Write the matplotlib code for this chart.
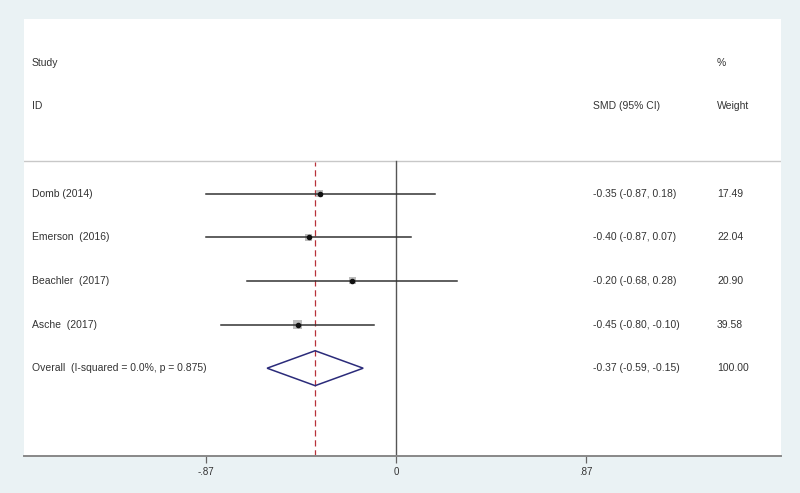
import matplotlib.pyplot as plt
from matplotlib.patches import Polygon, Rectangle

plt.rcParams['font.family'] = ['Liberation Sans', 'DejaVu Sans']

# study data
studies = ['Domb (2014)', 'Emerson  (2016)', 'Beachler  (2017)', 'Asche  (2017)']
smd = [-0.35, -0.40, -0.20, -0.45]
lo = [-0.87, -0.87, -0.68, -0.80]
hi = [0.18, 0.07, 0.28, -0.10]
weight = [17.49, 22.04, 20.90, 39.58]
ci_text = ['-0.35 (-0.87, 0.18)', '-0.40 (-0.87, 0.07)',
           '-0.20 (-0.68, 0.28)', '-0.45 (-0.80, -0.10)']
weight_text = ['17.49', '22.04', '20.90', '39.58']

overall_label = 'Overall  (I-squared = 0.0%, p = 0.875)'
overall = -0.37
overall_lo = -0.59
overall_hi = -0.15
overall_text = '-0.37 (-0.59, -0.15)'
overall_weight = '100.00'

xticks = [-0.87, 0, 0.87]
xticklabels = ['-.87', '0', '.87']

bg = '#eaf2f4'
txt = '#333333'

fig = plt.figure(figsize=(8, 4.93), dpi=100)
fig.patch.set_facecolor(bg)
ax = fig.add_axes([24 / 800, 1 - 455.5 / 493, (781 - 24) / 800, (455.5 - 19) / 493])
ax.set_facecolor('white')
ax.set_xlim(-1.703, 1.763)
ax.set_ylim(0, 10)

rows = [6, 5, 4, 3]
orow = 2

# header
ax.text(-1.667, 9, 'Study', fontsize=7.5, color=txt, va='center')
ax.text(-1.667, 8, 'ID', fontsize=7.5, color=txt, va='center')
ax.text(0.902, 8, 'SMD (95% CI)', fontsize=7.5, color=txt, va='center')
ax.text(1.47, 9, '%', fontsize=7.5, color=txt, va='center')
ax.text(1.47, 8, 'Weight', fontsize=7.5, color=txt, va='center')
ax.axhline(6.75, color='#c8c8c8', lw=1)

# reference lines
ax.plot([0, 0], [0, 6.75], color='#555555', lw=1)
ax.plot([overall, overall], [0, 6.72], color='#b8323a', lw=0.9, ls=(0, (5, 3)))

# studies
for i in range(len(studies)):
    y = rows[i]
    ax.plot([lo[i], hi[i]], [y, y], color='#333333', lw=1.1, zorder=3)
    side = 1.5 * weight[i] ** 0.5  # px
    w = side / 218.4
    h = side / 43.6
    ax.add_patch(Rectangle((smd[i] - w / 2, y - h / 2), w, h,
                           facecolor='#bdbdbd', edgecolor='none', zorder=2))
    ax.plot(smd[i], y, 'o', color='#111111', ms=3, zorder=4)
    ax.text(-1.667, y, studies[i], fontsize=7.5, color=txt, va='center')
    ax.text(0.902, y, ci_text[i], fontsize=7.5, color=txt, va='center')
    ax.text(1.47, y, weight_text[i], fontsize=7.5, color=txt, va='center')

# overall diamond
diamond = Polygon([(overall_lo, orow), (overall, orow + 0.4),
                   (overall_hi, orow), (overall, orow - 0.4)],
                  closed=True, fill=False, edgecolor='#2b2b7a', lw=1.1, zorder=3)
ax.add_patch(diamond)
ax.text(-1.667, orow, overall_label, fontsize=7.5, color=txt, va='center')
ax.text(0.902, orow, overall_text, fontsize=7.5, color=txt, va='center')
ax.text(1.47, orow, overall_weight, fontsize=7.5, color=txt, va='center')

# axes styling
for s in ['top', 'left', 'right']:
    ax.spines[s].set_visible(False)
ax.spines['bottom'].set_color('#888888')
ax.spines['bottom'].set_linewidth(1.4)
ax.set_yticks([])
ax.set_xticks(xticks)
ax.set_xticklabels(xticklabels)
ax.tick_params(axis='x', length=5, width=0.9, color='#666666', labelsize=7,
               labelcolor=txt, pad=3)

fig.savefig('out.png', dpi=100, facecolor=bg)
